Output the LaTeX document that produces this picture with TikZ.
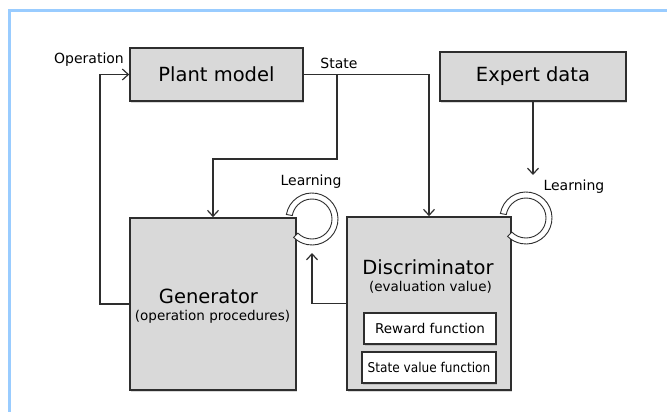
\documentclass[tikz,border=0pt]{standalone}
\usepackage{fontspec}
\setmainfont{DejaVu Sans}
\usepackage{tikz}
\usetikzlibrary{positioning,arrows.meta,shadows}

\definecolor{frameblue}{HTML}{99CCFF}
\definecolor{boxgray}{HTML}{D9D9D9}
\definecolor{edgegray}{HTML}{2E2E2E}

\begin{document}
\begin{tikzpicture}[x=1pt,y=-1pt,
    blk/.style={draw=edgegray,line width=1.6pt,fill=boxgray,inner sep=0pt,
        drop shadow={shadow xshift=1pt,shadow yshift=-2pt,opacity=0.3}},
    fnbox/.style={draw=edgegray,line width=1.4pt,fill=white,inner sep=0pt,
        drop shadow={shadow xshift=1pt,shadow yshift=-1.5pt,opacity=0.3}},
    bigtxt/.style={font=\fontsize{19.5}{22}\selectfont},
    midtxt/.style={font=\fontsize{13.5}{16}\selectfont},
    smalltxt/.style={font=\fontsize{14}{16}\selectfont},
    wire/.style={draw=edgegray,line width=1.3pt},
    arr/.style={wire,-{Straight Barb[length=6pt,width=11pt,line width=1.2pt]}},
    ring/.style={draw=edgegray,line width=0.9pt,fill=white}]
    \useasboundingbox (0,0) rectangle (667,412);
    \draw[frameblue,line width=3pt] (667,11) -- (9.5,11) -- (9.5,412);

    \node[blk,bigtxt,minimum width=173pt,minimum height=53pt] (plant) at (216.5,74.5) {Plant model};
    \node[blk,bigtxt,minimum width=186pt,minimum height=49pt] (expert) at (533,76.5) {Expert data};
    \node[blk,minimum width=166pt,minimum height=172pt] (gen) at (213,304) {};
    \node[blk,minimum width=164pt,minimum height=173pt] (disc) at (429,303.5) {};

    \node[bigtxt] (gentitle) at (208.5,296) {Generator};
    \node[midtxt] (gensub) at (212.5,317) {(operation procedures)};
    \node[bigtxt] (disctitle) at (428,267) {Discriminator};
    \node[midtxt] (discsub) at (430.5,287) {(evaluation value)};
    \node[fnbox,midtxt,minimum width=132pt,minimum height=31pt] (reward) at (430,328.5) {Reward function};
    \node[fnbox,midtxt,minimum width=134pt,minimum height=31pt] (stateval) at (429,367.5) {\scalebox{0.9}[1]{State value function}};

    \node[smalltxt] (oplabel) at (89,60) {Operation};
    \node[smalltxt] (stlabel) at (339,63) {State};
    \node[smalltxt] (genlearn) at (311,182) {Learning};
    \node[smalltxt,anchor=west] (disclearn) at (540,187) {Learning};

    \coordinate (genloop) at (312,219);
    \coordinate (discloop) at (526,218);
    \draw[ring] (genloop) ++(170:26pt) arc[start angle=170,end angle=-135,radius=26pt]
        -- ++(-135:-6pt) arc[start angle=-135,end angle=170,radius=20pt] -- cycle;
    \draw[ring] (discloop) ++(170:26pt) arc[start angle=170,end angle=-135,radius=26pt]
        -- ++(-135:-6pt) arc[start angle=-135,end angle=170,radius=20pt] -- cycle;

    \coordinate (opbend) at (100,304);
    \coordinate (split) at (337,74.5);
    \coordinate (stbend) at (337,159);
    \coordinate (exptip) at (533,175);
    \coordinate (fbtip) at (312,253);

    \draw[arr] (gen.west) -- (opbend) |- (plant.west);
    \draw[wire] (plant.east) -- (split);
    \draw[arr] (split) -| (disc.north);
    \draw[arr] (split) -- (stbend) -| (gen.north);
    \draw[arr] (expert.south) -- (exptip);
    \draw[arr] (disc.west) -| (fbtip);

\end{tikzpicture}
\end{document}
